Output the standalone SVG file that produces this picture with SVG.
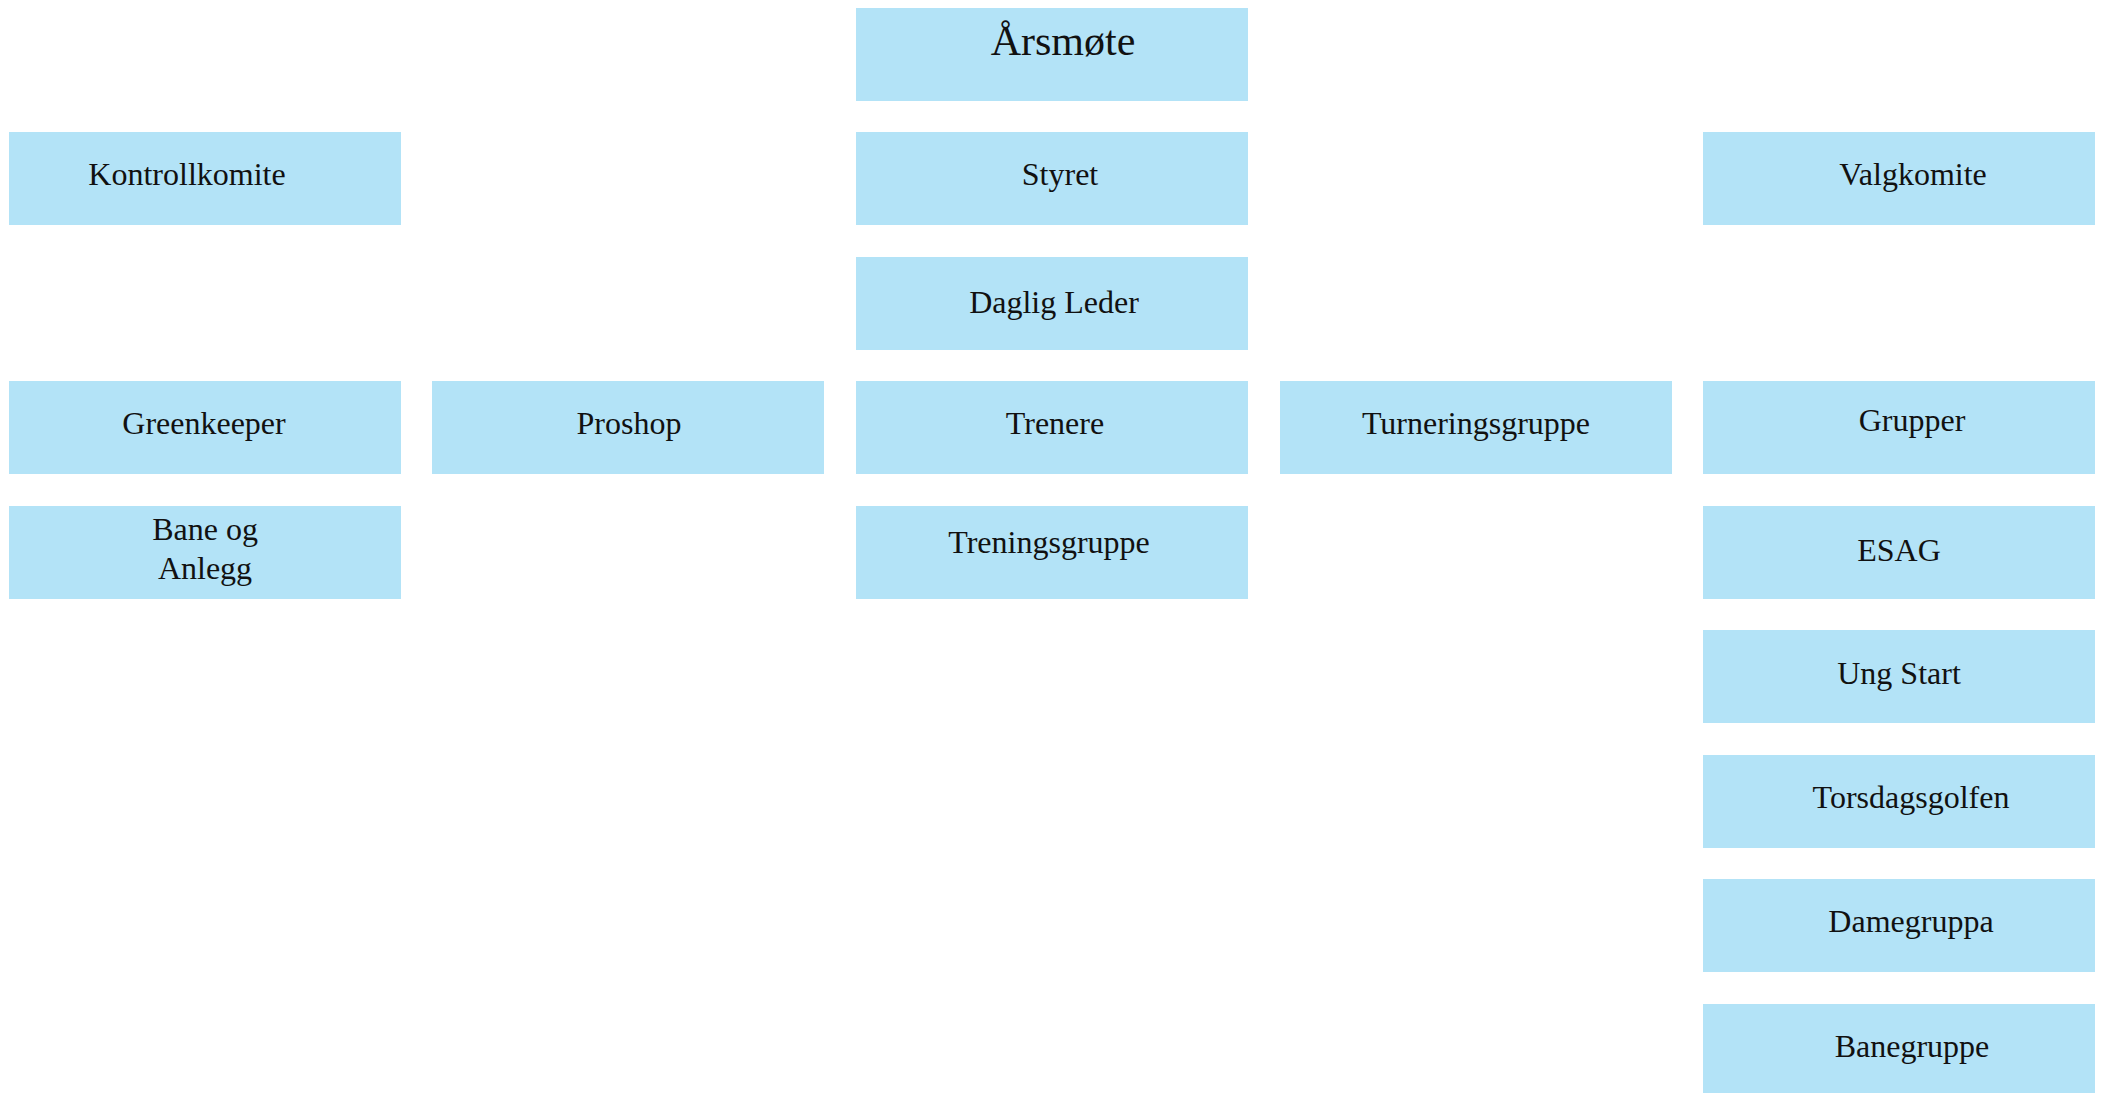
<svg xmlns="http://www.w3.org/2000/svg" width="2105" height="1093" viewBox="0 0 2105 1093">
<style>
.box{fill:#b3e3f7}
.lbl{font-family:"Liberation Serif","DejaVu Serif",serif;font-size:32px;fill:#111;text-anchor:middle}
.big{font-size:42px}
</style>
<rect x="0" y="0" width="2105" height="1093" fill="#ffffff"/>
<g id="connectors"></g>
<g id="arsmote"><rect class="box" x="856" y="8" width="392" height="93"/><text class="lbl big" x="1063" y="55">Årsmøte</text></g>
<g id="kontrollkomite"><rect class="box" x="9" y="132" width="392" height="93"/><text class="lbl" x="187" y="185">Kontrollkomite</text></g>
<g id="styret"><rect class="box" x="856" y="132" width="392" height="93"/><text class="lbl" x="1060" y="185">Styret</text></g>
<g id="valgkomite"><rect class="box" x="1703" y="132" width="392" height="93"/><text class="lbl" x="1913" y="185">Valgkomite</text></g>
<g id="daglig-leder"><rect class="box" x="856" y="257" width="392" height="93"/><text class="lbl" x="1054" y="313">Daglig Leder</text></g>
<g id="greenkeeper"><rect class="box" x="9" y="381" width="392" height="93"/><text class="lbl" x="204" y="434">Greenkeeper</text></g>
<g id="proshop"><rect class="box" x="432" y="381" width="392" height="93"/><text class="lbl" x="629" y="434">Proshop</text></g>
<g id="trenere"><rect class="box" x="856" y="381" width="392" height="93"/><text class="lbl" x="1055" y="434">Trenere</text></g>
<g id="turneringsgruppe"><rect class="box" x="1280" y="381" width="392" height="93"/><text class="lbl" x="1476" y="434">Turneringsgruppe</text></g>
<g id="grupper"><rect class="box" x="1703" y="381" width="392" height="93"/><text class="lbl" x="1912" y="431">Grupper</text></g>
<g id="bane-og-anlegg"><rect class="box" x="9" y="506" width="392" height="93"/><text class="lbl" x="205" y="540">Bane og</text><text class="lbl" x="205" y="579">Anlegg</text></g>
<g id="treningsgruppe"><rect class="box" x="856" y="506" width="392" height="93"/><text class="lbl" x="1049" y="553">Treningsgruppe</text></g>
<g id="esag"><rect class="box" x="1703" y="506" width="392" height="93"/><text class="lbl" x="1899" y="561">ESAG</text></g>
<g id="ung-start"><rect class="box" x="1703" y="630" width="392" height="93"/><text class="lbl" x="1899" y="684">Ung Start</text></g>
<g id="torsdagsgolfen"><rect class="box" x="1703" y="755" width="392" height="93"/><text class="lbl" x="1911" y="808">Torsdagsgolfen</text></g>
<g id="damegruppa"><rect class="box" x="1703" y="879" width="392" height="93"/><text class="lbl" x="1911" y="932">Damegruppa</text></g>
<g id="banegruppe"><rect class="box" x="1703" y="1004" width="392" height="93"/><text class="lbl" x="1912" y="1057">Banegruppe</text></g>
</svg>
